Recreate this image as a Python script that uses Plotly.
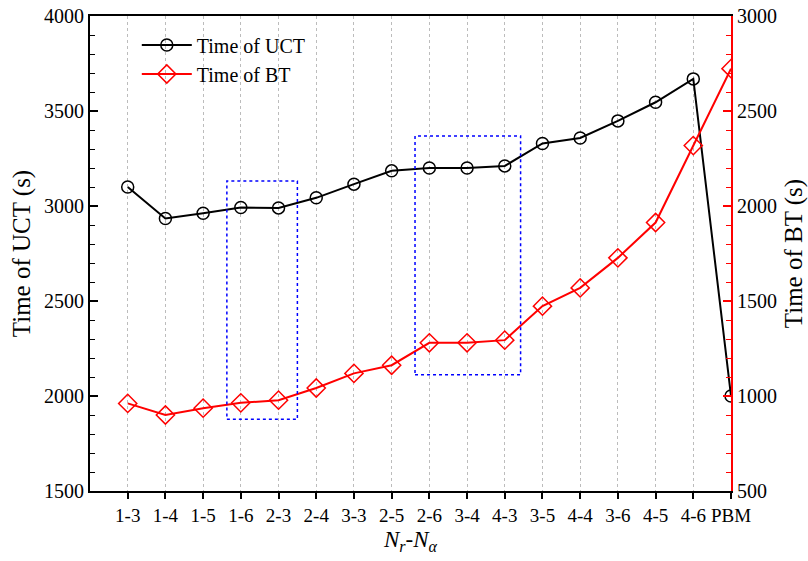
import plotly.graph_objects as go

# Configurations N_r-N_alpha plus the PBM reference
configs = ["1-3", "1-4", "1-5", "1-6", "2-3", "2-4", "3-3", "2-5", "2-6",
           "3-4", "4-3", "3-5", "4-4", "3-6", "4-5", "4-6", "PBM"]
# Time of UCT (s), left axis
uct_time = [3100, 2934, 2962, 2992, 2990, 3043, 3115, 3185, 3200,
            3200, 3211, 3329, 3358, 3448, 3546, 3669, 2000]
# Time of BT (s), right axis
bt_time = [961, 900, 936, 964, 978, 1042, 1119, 1162, 1280,
           1280, 1294, 1473, 1569, 1727, 1913, 2318, 2723]

FONT = "Liberation Serif, Times New Roman, serif"

fig = go.Figure()
fig.add_trace(go.Scatter(
    x=configs, y=uct_time, name="Time of UCT", mode="lines+markers",
    line=dict(color="black", width=2),
    marker=dict(symbol="circle-open", size=12, color="black", line=dict(width=1.5)),
))
fig.add_trace(go.Scatter(
    x=configs, y=bt_time, name="Time of BT", mode="lines+markers", yaxis="y2",
    line=dict(color="red", width=2),
    marker=dict(symbol="diamond-open", size=14, color="red", line=dict(width=1.5)),
))

# dashed boxes highlighting groups of configurations
box = dict(type="rect", xref="x", yref="y", line=dict(color="blue", width=1.5, dash="dot"),
           fillcolor="rgba(0,0,0,0)", layer="above")
fig.add_shape(x0=2.63, x1=4.5, y0=1877, y1=3132, **box)
fig.add_shape(x0=7.62, x1=10.42, y0=2112, y1=3369, **box)

fig.update_layout(
    width=808, height=561,
    margin=dict(l=90, r=77, t=16, b=70),
    paper_bgcolor="white", plot_bgcolor="white",
    font=dict(family=FONT, size=18, color="black"),
    showlegend=True,
    legend=dict(x=0.073, y=0.98, xanchor="left", yanchor="top",
                bgcolor="rgba(0,0,0,0)", font=dict(size=20, family=FONT),
                itemwidth=50, tracegroupgap=0),
    xaxis=dict(
        type="category", range=[-1, 16], automargin=False,
        showline=True, linecolor="black", linewidth=2, mirror=True,
        ticks="outside", ticklen=6, tickwidth=1.5, tickcolor="black",
        showgrid=True, gridcolor="#bcbcbc", griddash="3px,3px", gridwidth=1,
        tickfont=dict(size=19, family=FONT),
        title=dict(text="<i>N</i><sub><i>r</i></sub>-<i>N</i><sub><i>α</i></sub>",
                   font=dict(size=23, family=FONT), standoff=6),
    ),
    yaxis=dict(
        range=[1500, 4000], dtick=500, automargin=False,
        showline=True, linecolor="black", linewidth=2,
        ticks="inside", ticklen=8, tickwidth=1.5, tickcolor="black",
        minor=dict(dtick=100, ticks="inside", ticklen=5, tickcolor="black", tickwidth=1),
        showgrid=False, zeroline=False,
        tickfont=dict(size=20, family=FONT),
        title=dict(text="Time of UCT (s)", font=dict(size=25, family=FONT), standoff=6),
    ),
    yaxis2=dict(
        range=[500, 3000], dtick=500, overlaying="y", side="right", automargin=False,
        showline=True, linecolor="red", linewidth=2,
        ticks="inside", ticklen=8, tickwidth=1.5, tickcolor="red",
        minor=dict(dtick=100, ticks="inside", ticklen=5, tickcolor="red", tickwidth=1),
        showgrid=False, zeroline=False,
        tickfont=dict(size=20, family=FONT, color="black"),
        title=dict(text="Time of BT (s)", font=dict(size=25, family=FONT), standoff=12),
    ),
)

fig.write_html("out.html")
